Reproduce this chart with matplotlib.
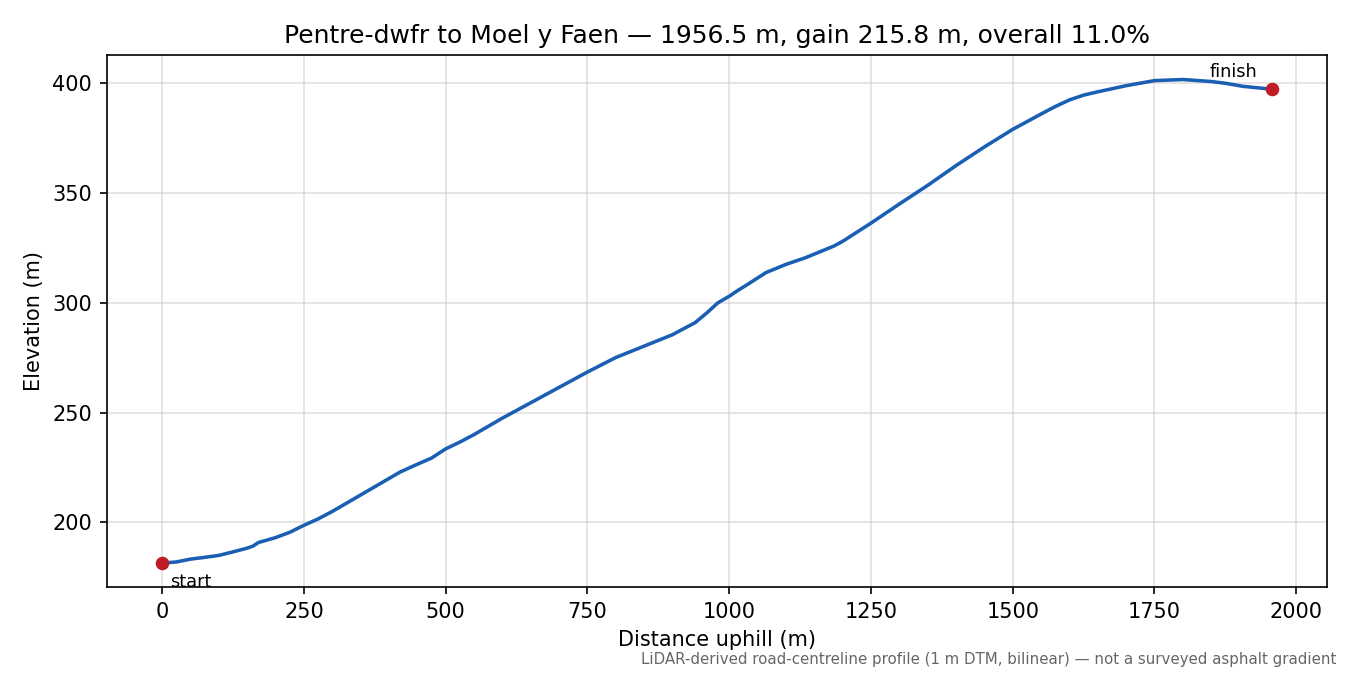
#!/usr/bin/env python3
"""Climb profile: Pentre-dwfr to Moel y Faen (LiDAR road-centreline)."""
import matplotlib

matplotlib.use("Agg")
import matplotlib.pyplot as plt

# distance along the road (m) and elevation (m)
distance_m = [
    0, 25, 50, 75, 100, 125, 150, 160, 170, 180, 200, 225, 250, 275, 300,
    350, 400, 420, 450, 475, 500, 525, 550, 600, 650, 700, 750, 800, 850,
    900, 940, 960, 980, 1000, 1015, 1030, 1065, 1100, 1135, 1185, 1200,
    1250, 1300, 1350, 1400, 1450, 1500, 1550, 1575, 1600, 1625, 1650, 1700,
    1750, 1800, 1850, 1875, 1906, 1956.5,
]
elevation_m = [
    181.5, 182.0, 183.3, 184.1, 185.0, 186.6, 188.3, 189.2, 190.9, 191.6,
    193.1, 195.5, 198.7, 201.6, 205.0, 212.5, 220.0, 223.0, 226.5, 229.3,
    233.5, 236.6, 240.0, 247.5, 254.5, 261.5, 268.5, 275.1, 280.3, 285.5,
    291.0, 295.3, 300.0, 303.0, 305.6, 308.0, 313.8, 317.5, 320.6, 325.9,
    328.0, 336.3, 345.0, 353.5, 362.5, 371.0, 379.0, 386.0, 389.4, 392.4,
    394.6, 396.1, 398.9, 401.2, 401.7, 400.8, 400.0, 398.6, 397.3,
]

LINE = "#1a5fb4"
DOT = "#c01c28"

total = distance_m[-1]
gain = elevation_m[-1] - elevation_m[0]
grade = 100 * gain / total

fig, ax = plt.subplots(figsize=(9, 4.5), dpi=150)
fig.subplots_adjust(left=0.079, right=0.983, top=0.918, bottom=0.13)

ax.plot(distance_m, elevation_m, color=LINE, linewidth=1.7, zorder=2)
ax.plot([distance_m[0], distance_m[-1]], [elevation_m[0], elevation_m[-1]],
        "o", color=DOT, markersize=5.5, zorder=3)
ax.annotate("start", (distance_m[0], elevation_m[0]), xytext=(4, -5),
            textcoords="offset points", ha="left", va="top", fontsize=8.5)
ax.annotate("finish", (distance_m[-1], elevation_m[-1]), xytext=(-7, 4),
            textcoords="offset points", ha="right", va="bottom", fontsize=8.5)

ax.set_title(f"Pentre-dwfr to Moel y Faen \u2014 {total:.1f} m, gain {gain:.1f} m, "
             f"overall {grade:.1f}%", fontsize=12)
ax.set_xlabel("Distance uphill (m)")
ax.set_ylabel("Elevation (m)")
ax.grid(True, color="#cccccc", alpha=0.6, linewidth=0.8)

fig.text(0.99, 0.012,
         "LiDAR-derived road-centreline profile (1 m DTM, bilinear) \u2014 not a surveyed asphalt gradient",
         ha="right", va="bottom", fontsize=7.2, color="#666666")

fig.savefig("out.png")
plt.close(fig)
